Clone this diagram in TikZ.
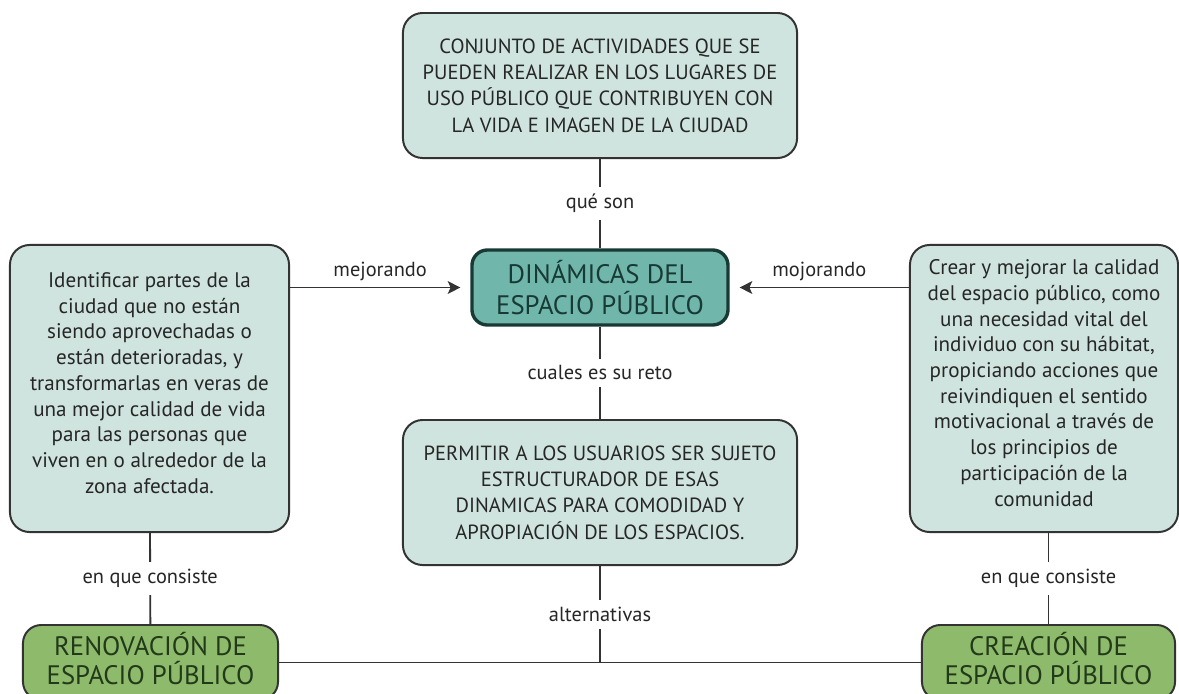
\documentclass[tikz,border=0pt]{standalone}
\usepackage{fontspec}
\setmainfont{PT Sans}
\usetikzlibrary{arrows.meta}

\definecolor{boxFill}{HTML}{CFE4DE}
\definecolor{mainFill}{HTML}{70B6AB}
\definecolor{altFill}{HTML}{8EBA6B}
\definecolor{lineGray}{HTML}{333333}
\definecolor{textGray}{HTML}{262626}
\definecolor{mainText}{HTML}{183A35}
\definecolor{altText}{HTML}{22391A}

\tikzstyle{infoBox}=[shape=rectangle,rounded corners=14pt,draw=lineGray,line width=1.4pt,fill=boxFill,align=center,text=textGray,inner sep=0pt]
\tikzstyle{capsText}=[font=\fontsize{14.6}{18.8}\selectfont]
\tikzstyle{bodyText}=[font=\fontsize{15}{18.3}\selectfont,text depth=8pt]
\tikzstyle{mainBox}=[shape=rectangle,rounded corners=11pt,draw=mainText,line width=2.4pt,fill=mainFill,align=center,text=mainText,inner sep=0pt,font=\fontsize{19}{22.6}\selectfont]
\tikzstyle{altBox}=[shape=rectangle,rounded corners=13pt,draw=lineGray,line width=1.4pt,fill=altFill,align=center,text=altText,inner sep=0pt,font=\fontsize{19}{21}\selectfont,text depth=6pt]
\tikzstyle{link}=[draw=lineGray,line width=1.3pt]
\tikzstyle{linkLabel}=[fill=white,inner xsep=2pt,inner ysep=5pt,text=textGray,font=\fontsize{14.5}{16}\selectfont]
\tikzstyle{arrowLabel}=[above=4pt,inner sep=0pt,text=textGray,font=\fontsize{14.5}{16}\selectfont]

\begin{document}
\begin{tikzpicture}[x=0.025cm,y=-0.025cm]
        \useasboundingbox (0,0) rectangle (1179,693);
        \clip (0,0) rectangle (1179,693);

        % concepts
        \node[infoBox,capsText,minimum width=9.85cm,minimum height=3.625cm] (what) at (600,85.5)
            {CONJUNTO DE ACTIVIDADES QUE SE\\PUEDEN REALIZAR EN LOS LUGARES DE\\USO PÚBLICO QUE CONTRIBUYEN CON\\LA VIDA E IMAGEN DE LA CIUDAD};
        \node[mainBox,minimum width=6.4cm,minimum height=1.875cm] (dyn) at (600,287.5)
            {DINÁMICAS DEL\\ESPACIO PÚBLICO};
        \node[infoBox,bodyText,minimum width=6.975cm,minimum height=7.175cm] (renoText) at (149.5,388.5)
            {Identificar partes de la\\ciudad que no están\\siendo aprovechadas o\\están deterioradas, y\\transformarlas en veras de\\una mejor calidad de vida\\para las personas que\\viven en o alrededor de la\\zona afectada.};
        \node[infoBox,bodyText,minimum width=6.7cm,minimum height=7.175cm] (creaText) at (1044,388.5)
            {Crear y mejorar la calidad\\del espacio público, como\\una necesidad vital del\\individuo con su hábitat,\\propiciando acciones que\\reivindiquen el sentido\\motivacional a través de\\los principios de\\participación de la\\comunidad};
        \node[infoBox,capsText,minimum width=9.85cm,minimum height=3.625cm] (reto) at (600,492.5)
            {PERMITIR A LOS USUARIOS SER SUJETO\\ESTRUCTURADOR DE ESAS\\DINAMICAS PARA COMODIDAD Y\\APROPIACIÓN DE LOS ESPACIOS.};
        \node[altBox,minimum width=6.375cm,minimum height=1.875cm] (reno) at (150.5,662.5)
            {RENOVACIÓN DE\\ESPACIO PÚBLICO};
        \node[altBox,minimum width=6.325cm,minimum height=1.875cm] (crea) at (1048.5,662.5)
            {CREACIÓN DE\\ESPACIO PÚBLICO};

        % links
        \draw [link] (what) -- node[linkLabel] {qué son} (dyn);
        \draw [link] (dyn) -- node[linkLabel] {cuales es su reto} (reto);
        \draw [link] (reto) -- node[linkLabel] {alternativas} (reto |- reno.east);
        \draw [link] (reno) -- (crea);
        \draw [link] (renoText) -- node[linkLabel] {en que consiste} (reno);
        \draw [link] (crea.north |- creaText.south) -- node[linkLabel] {en que consiste} (crea.north);

        \draw [link,-{Stealth[length=9pt,width=9pt,inset=2pt]},shorten >=7pt] (renoText.east |- dyn) -- node[arrowLabel] {mejorando} (dyn);
        \draw [link,-{Stealth[length=9pt,width=9pt,inset=2pt]},shorten >=7pt] (creaText.west |- dyn) -- node[arrowLabel] {mojorando} (dyn);
\end{tikzpicture}
\end{document}
